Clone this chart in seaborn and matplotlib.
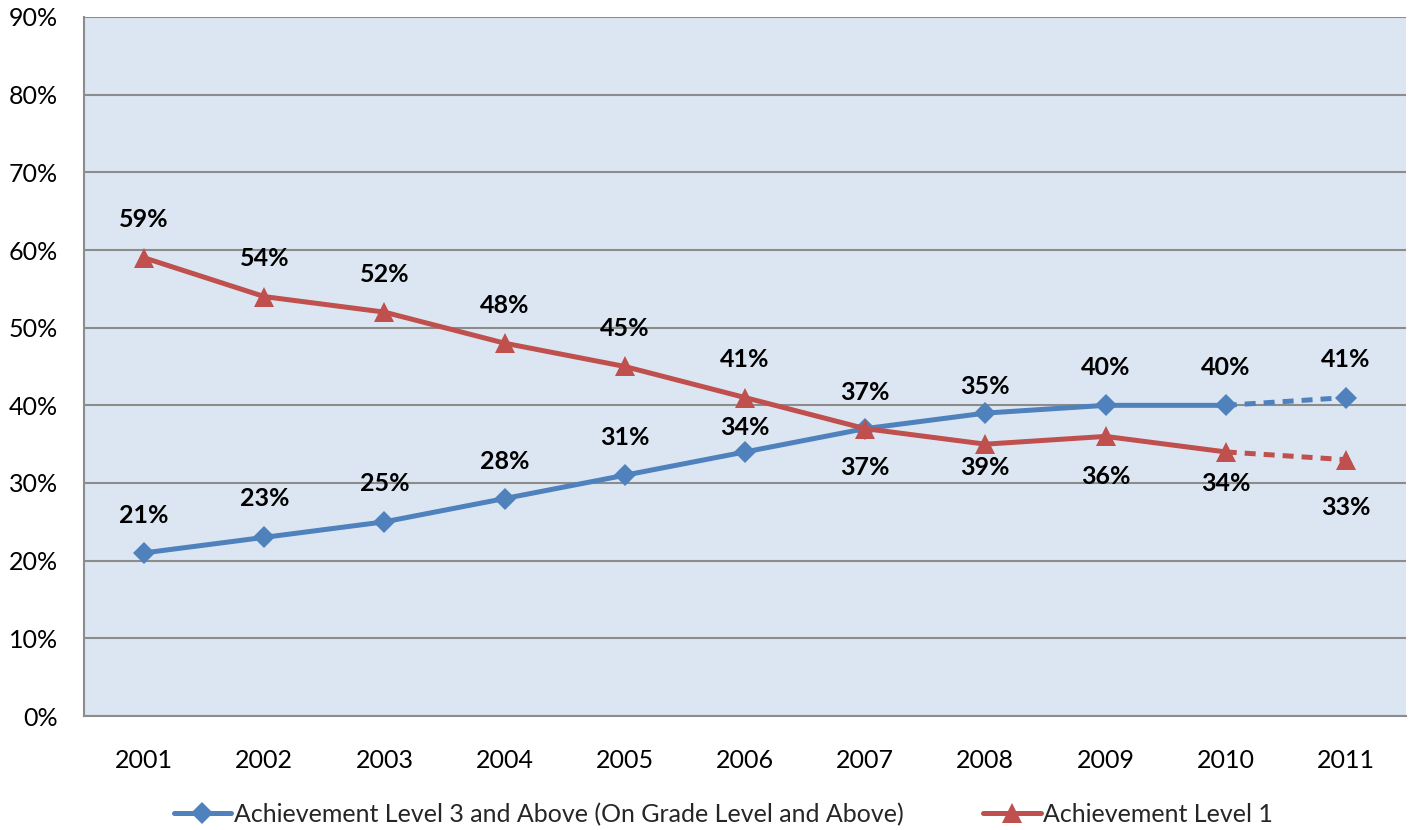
import matplotlib
matplotlib.use("Agg")
import matplotlib.pyplot as plt
from matplotlib.lines import Line2D
import seaborn as sns
import pandas as pd

years = ["2001", "2002", "2003", "2004", "2005", "2006", "2007", "2008", "2009", "2010", "2011"]
level3_above = [21, 23, 25, 28, 31, 34, 37, 39, 40, 40, 41]
level1 = [59, 54, 52, 48, 45, 41, 37, 35, 36, 34, 33]
# data labels as they appear in the original chart
level3_labels = ["21%", "23%", "25%", "28%", "31%", "34%", "37%", "35%", "40%", "40%", "41%"]
level1_labels = ["59%", "54%", "52%", "48%", "45%", "41%", "37%", "39%", "36%", "34%", "33%"]
y_ticks = [0, 10, 20, 30, 40, 50, 60, 70, 80, 90]
series_names = ["Achievement Level 3 and Above (On Grade Level and Above)", "Achievement Level 1"]

# label offsets in pixels (style, not data)
blue_off = [37, 39, 38, 37, 38, 24, 36, 27, 38, 38, 38]
red_off = [38, 38, 38, 38, 38, 38, -39, -23, -40, -32, -48]

BLUE = "#4F81BD"
RED = "#C0504D"
GRID = "#8C8C8C"
BG = "#DCE6F2"

sns.set_theme(style="white")
plt.rcParams["font.family"] = ["Lato", "DejaVu Sans"]

fig = plt.figure(figsize=(14.13, 8.30), dpi=100)
ax = fig.add_axes([84 / 1413, 1 - 716 / 830, (1406 - 84) / 1413, (716 - 17) / 830])
ax.set_facecolor(BG)

n = len(years)
df = pd.DataFrame({
    "x": list(range(n)) * 2,
    "value": level3_above + level1,
    "series": [series_names[0]] * n + [series_names[1]] * n,
})
solid = df[df["x"] <= n - 2]
dashed = df[df["x"] >= n - 2]

palette = {series_names[0]: BLUE, series_names[1]: RED}
markers = {series_names[0]: "D", series_names[1]: "^"}
ms = {series_names[0]: 11, series_names[1]: 14}

for name in series_names:
    s = solid[solid["series"] == name]
    d = dashed[dashed["series"] == name]
    sns.lineplot(data=s, x="x", y="value", color=palette[name], linewidth=3.6,
                 marker=markers[name], markersize=ms[name], markeredgewidth=0,
                 ax=ax, legend=False, zorder=3)
    sns.lineplot(data=d, x="x", y="value", color=palette[name], linewidth=3.6,
                 linestyle=(0, (2.2, 1.6)), ax=ax, legend=False, zorder=2)
    ax.plot(d["x"].iloc[-1:], d["value"].iloc[-1:], linestyle="none",
            marker=markers[name], markersize=ms[name], color=palette[name],
            markeredgewidth=0, zorder=3)

for i in range(n):
    ax.annotate(level3_labels[i], (i, level3_above[i]), xytext=(0, blue_off[i]),
                textcoords="offset pixels", ha="center", va="center",
                fontsize=18, fontweight="bold", color="black", zorder=4)
    ax.annotate(level1_labels[i], (i, level1[i]), xytext=(0, red_off[i]),
                textcoords="offset pixels", ha="center", va="center",
                fontsize=18, fontweight="bold", color="black", zorder=4)

ax.set_xlim(-0.5, n - 0.5)
ax.set_ylim(0, 90)
ax.set_xticks(range(n))
ax.set_xticklabels(years)
ax.set_yticks(y_ticks)
ax.set_yticklabels([f"{v}%" for v in y_ticks])
ax.tick_params(axis="both", length=0, labelsize=18, colors="black")
ax.tick_params(axis="x", pad=24)
ax.tick_params(axis="y", pad=19)
ax.set_xlabel("")
ax.set_ylabel("")
ax.grid(axis="y", color=GRID, linewidth=1.5)
ax.grid(axis="x", visible=False)
ax.set_axisbelow(True)
for side in ["top", "right"]:
    ax.spines[side].set_visible(False)
for side in ["left", "bottom"]:
    ax.spines[side].set_visible(True)
    ax.spines[side].set_color(GRID)
    ax.spines[side].set_linewidth(1.5)

handles = [
    Line2D([0], [0], color=BLUE, linewidth=3.6, marker="D", markersize=11, markeredgewidth=0),
    Line2D([0], [0], color=RED, linewidth=3.6, marker="^", markersize=14, markeredgewidth=0),
]
fig.legend(handles, series_names, loc="center", bbox_to_anchor=(0.512, 0.019),
           ncol=2, frameon=False, fontsize=18, handlelength=2.3, handletextpad=0.1,
           columnspacing=3.2)

fig.savefig("out.png", dpi=100)
